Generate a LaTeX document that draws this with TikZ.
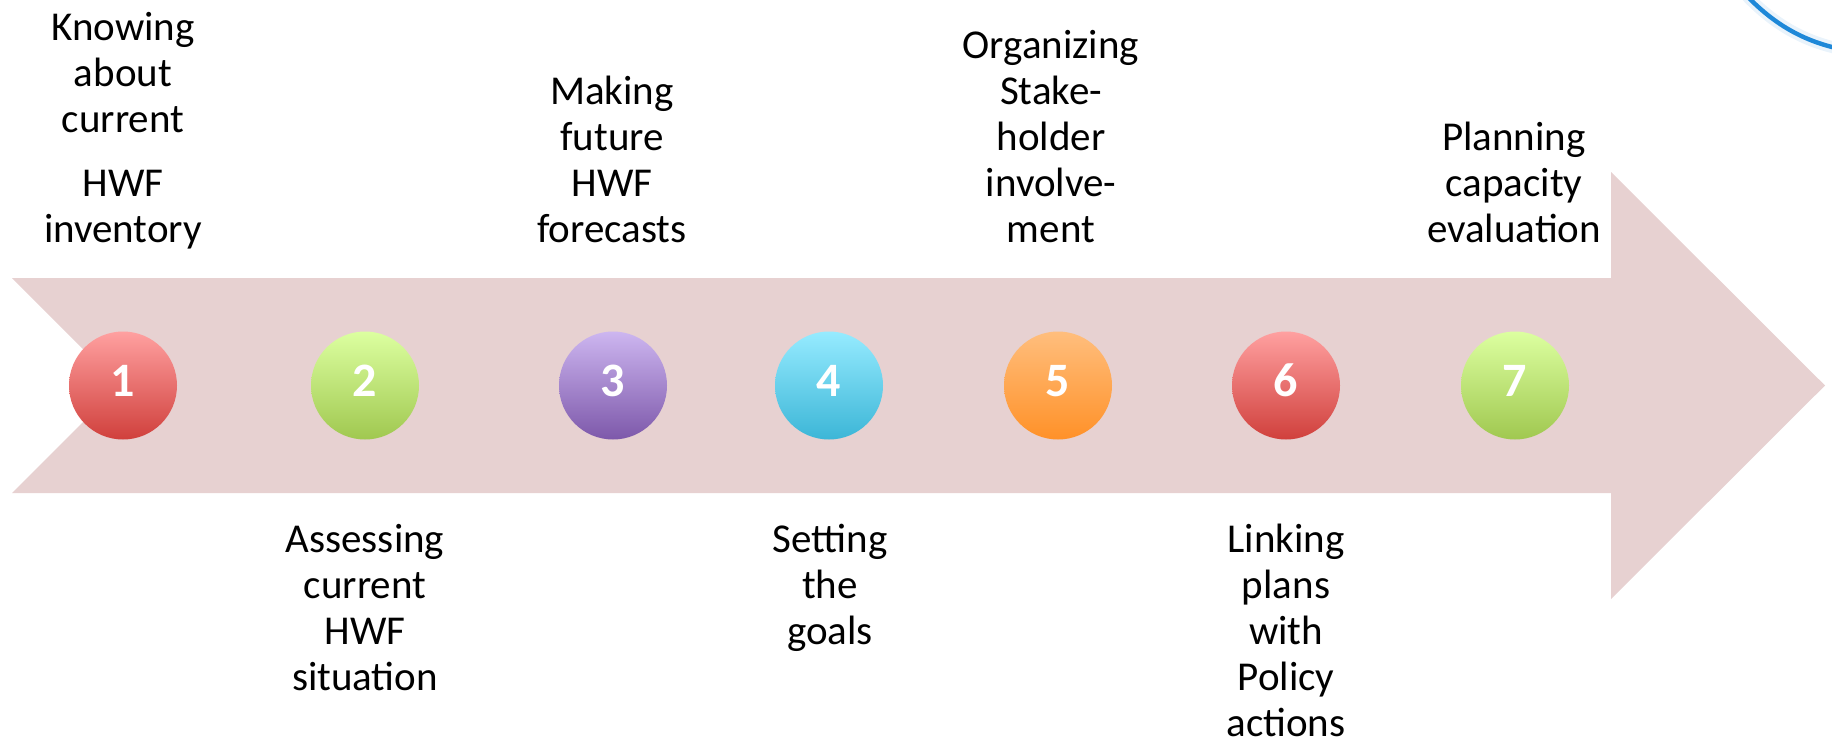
\documentclass[tikz,border=0pt]{standalone}
\usepackage{fontspec}
\setmainfont{Carlito}
\definecolor{arrowfill}{RGB}{231,209,209}
\definecolor{redtop}{RGB}{255,160,160}
\definecolor{redbot}{RGB}{208,64,60}
\definecolor{greentop}{RGB}{220,255,160}
\definecolor{greenbot}{RGB}{160,200,80}
\definecolor{purptop}{RGB}{205,182,240}
\definecolor{purpbot}{RGB}{125,88,170}
\definecolor{cyantop}{RGB}{150,235,255}
\definecolor{cyanbot}{RGB}{60,182,215}
\definecolor{orgtop}{RGB}{255,190,125}
\definecolor{orgbot}{RGB}{255,145,40}
\definecolor{arcblue}{RGB}{30,136,216}
\newcommand\toplines[1]{\vbox{\halign{\hfil##\hfil\cr#1\crcr}}}
\newcommand\botlines[1]{\vtop{\halign{\hfil##\hfil\cr#1\crcr}}}
\tikzset{
  ball/.style={circle, draw=none, inner sep=0pt, minimum size=54pt},
  num/.style={anchor=base, inner sep=0pt, text=white, font=\fontsize{24}{28}\selectfont\bfseries},
  lbl/.style={anchor=base, inner sep=0pt, text=black, font=\fontsize{20.5}{23}\selectfont},
}
\begin{document}
\begin{tikzpicture}[x=0.5pt,y=-0.5pt]
\useasboundingbox (0,0) rectangle (1832,744);
% big arrow
\fill[arrowfill] (12,278) -- (1611,278) -- (1611,172) -- (1825,385.5) -- (1611,599)
  -- (1611,493) -- (12,493) -- (119.5,385.5) -- cycle;
% blue arc (partial logo)
\draw[arcblue!10, line width=6pt, line cap=round] (1747,-4) .. controls (1774,24) and (1802,40) .. (1836,48);
\draw[arcblue, line width=2.2pt] (1747,-4) .. controls (1774,24) and (1802,40) .. (1836,48);
% balls
\node[ball, top color=redtop, bottom color=redbot] (c1) at (123,385.5) {};
\node[ball, top color=greentop, bottom color=greenbot] (c2) at (365,385.5) {};
\node[ball, top color=purptop, bottom color=purpbot] (c3) at (613,385.5) {};
\node[ball, top color=cyantop, bottom color=cyanbot] (c4) at (829,385.5) {};
\node[ball, top color=orgtop, bottom color=orgbot] (c5) at (1058,385.5) {};
\node[ball, top color=redtop, bottom color=redbot] (c6) at (1286,385.5) {};
\node[ball, top color=greentop, bottom color=greenbot] (c7) at (1515,385.5) {};
% numbers
\node[num] (n1) at (123,396) {1};
\node[num] (n2) at (365,396) {2};
\node[num] (n3) at (613,396) {3};
\node[num] (n4) at (829,396) {4};
\node[num] (n5) at (1058,396) {5};
\node[num] (n6) at (1286,396) {6};
\node[num] (n7) at (1515,396) {7};
% top labels (last baseline at y=242)
\node[lbl] (t1) at (123,242) {\toplines{Knowing\cr about\cr current\cr\noalign{\vskip 9pt} HWF\cr inventory}};
\node[lbl] (t3) at (612,242) {\toplines{Making\cr future\cr HWF\cr forecasts}};
\node[lbl] (t5) at (1051,242) {\toplines{Organizing\cr Stake-\cr holder\cr involve-\cr ment}};
\node[lbl] (t7) at (1514,242) {\toplines{Planning\cr capacity\cr evaluation}};
% bottom labels (first baseline at y=552)
\node[lbl] (b2) at (365,552) {\botlines{Assessing\cr current\cr HWF\cr situation}};
\node[lbl] (b4) at (830,552) {\botlines{Setting\cr the\cr goals}};
\node[lbl] (b6) at (1286,552) {\botlines{Linking\cr plans\cr with\cr Policy\cr actions}};
\end{tikzpicture}
\end{document}
